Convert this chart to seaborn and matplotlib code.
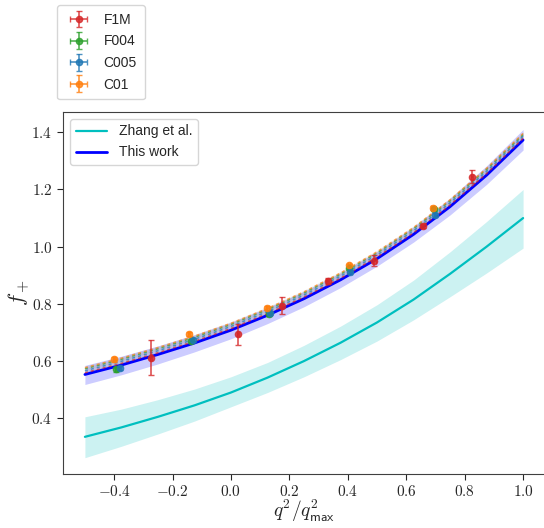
import matplotlib
matplotlib.use("Agg")
import matplotlib.pyplot as plt
import pandas as pd
import seaborn as sns
from matplotlib.legend_handler import HandlerErrorbar
from matplotlib.ticker import FuncFormatter

# q^2/q^2_max grid used for the curves
Q2 = [-0.5, -0.375, -0.25, -0.125, 0.0, 0.125, 0.25, 0.375, 0.5, 0.625, 0.75, 0.875, 1.0]

# Zhang et al. (central value and band)
ZHANG = [0.335, 0.368, 0.405, 0.445, 0.490, 0.542, 0.600, 0.664, 0.735, 0.815, 0.905, 1.000, 1.100]
ZHANG_LO = [0.262, 0.302, 0.345, 0.390, 0.440, 0.490, 0.545, 0.605, 0.670, 0.744, 0.825, 0.908, 0.995]
ZHANG_HI = [0.405, 0.432, 0.465, 0.502, 0.545, 0.595, 0.655, 0.722, 0.797, 0.883, 0.982, 1.088, 1.200]

# This work (central value and band)
THIS = [0.553, 0.586, 0.623, 0.663, 0.708, 0.760, 0.818, 0.884, 0.958, 1.043, 1.140, 1.250, 1.373]
THIS_LO = [0.518, 0.552, 0.590, 0.632, 0.678, 0.731, 0.790, 0.857, 0.932, 1.016, 1.111, 1.218, 1.338]
THIS_HI = [0.585, 0.617, 0.653, 0.692, 0.736, 0.787, 0.844, 0.909, 0.983, 1.070, 1.170, 1.283, 1.410]

# per-ensemble fit curves
FIT_F1M = [0.559, 0.592, 0.629, 0.669, 0.714, 0.766, 0.824, 0.890, 0.964, 1.049, 1.146, 1.256, 1.379]
FIT_C005 = [0.566, 0.599, 0.636, 0.676, 0.721, 0.773, 0.831, 0.897, 0.971, 1.056, 1.153, 1.263, 1.386]
FIT_F004 = [0.573, 0.606, 0.643, 0.683, 0.728, 0.780, 0.838, 0.904, 0.978, 1.063, 1.160, 1.270, 1.392]
FIT_C01 = [0.577, 0.610, 0.647, 0.687, 0.732, 0.784, 0.842, 0.908, 0.982, 1.067, 1.164, 1.274, 1.396]

# lattice data points
F1M_X = [-0.273, 0.023, 0.173, 0.331, 0.491, 0.656, 0.824]
F1M_Y = [0.612, 0.694, 0.793, 0.880, 0.951, 1.073, 1.245]
F1M_ERR = [0.062, 0.037, 0.030, 0.012, 0.020, 0.008, 0.022]

F004_X = [-0.394, -0.137, 0.129, 0.405, 0.694]
F004_Y = [0.571, 0.671, 0.764, 0.924, 1.131]
F004_ERR = [0.008, 0.006, 0.006, 0.005, 0.006]

C005_X = [-0.379, -0.129, 0.134, 0.409, 0.699]
C005_Y = [0.575, 0.674, 0.767, 0.913, 1.111]
C005_ERR = [0.008, 0.006, 0.006, 0.005, 0.006]

C01_X = [-0.400, -0.143, 0.125, 0.405, 0.690]
C01_Y = [0.606, 0.695, 0.785, 0.936, 1.136]
C01_ERR = [0.008, 0.006, 0.006, 0.005, 0.006]

RED, GREEN, BLUE, ORANGE = '#d62728', '#2ca02c', '#1f77b4', '#ff7f0e'


def main():
    sns.set_style("ticks")
    plt.rcParams['mathtext.fontset'] = 'cm'
    plt.rcParams['font.family'] = ['Liberation Sans', 'DejaVu Sans']

    fig = plt.figure(figsize=(5.44, 5.28), dpi=100)
    ax = fig.add_axes([63 / 544, 54 / 528, 482 / 544, 362 / 528])

    df = pd.DataFrame({'q2': Q2, 'zhang': ZHANG, 'this': THIS,
                       'F1M': FIT_F1M, 'C005': FIT_C005,
                       'F004': FIT_F004, 'C01': FIT_C01})

    ax.fill_between(Q2, ZHANG_LO, ZHANG_HI, color='c', alpha=0.2, lw=0)
    ax.fill_between(Q2, THIS_LO, THIS_HI, color='b', alpha=0.2, lw=0)

    sns.lineplot(x='q2', y='zhang', data=df, color='c', lw=1.6, ax=ax)
    sns.lineplot(x='q2', y='this', data=df, color='b', lw=2.0, ax=ax)
    lines = list(ax.get_lines())

    for name, col in [('F1M', RED), ('C005', BLUE), ('F004', GREEN), ('C01', ORANGE)]:
        ax.fill_between(Q2, df[name] - 0.006, df[name] + 0.006,
                        color='grey', alpha=0.12, lw=0)
        sns.lineplot(x='q2', y=name, data=df, color=col, lw=1.1,
                     alpha=0.7, ax=ax, linestyle=(0, (2, 2)))

    handles = []
    for lab, xs, ys, es, col in [('F1M', F1M_X, F1M_Y, F1M_ERR, RED),
                                 ('F004', F004_X, F004_Y, F004_ERR, GREEN),
                                 ('C005', C005_X, C005_Y, C005_ERR, BLUE),
                                 ('C01', C01_X, C01_Y, C01_ERR, ORANGE)]:
        h = ax.errorbar(xs, ys, xerr=0.004, yerr=es, fmt='o', ms=4.5,
                        color=col, ecolor=col, elinewidth=1.2, capsize=2.5,
                        alpha=0.8, label=lab, zorder=5)
        handles.append(h)

    ax.set_xlim(-0.575, 1.075)
    ax.set_ylim(0.205, 1.471)
    ax.set_xticks([-0.4, -0.2, 0.0, 0.2, 0.4, 0.6, 0.8, 1.0])
    ax.set_yticks([0.4, 0.6, 0.8, 1.0, 1.2, 1.4])
    fmt = FuncFormatter(lambda v, p: f"${v:.1f}$")
    ax.xaxis.set_major_formatter(fmt)
    ax.yaxis.set_major_formatter(fmt)
    ax.tick_params(labelsize=11, direction='out', length=4, color='.15')
    for s in ax.spines.values():
        s.set_color('.25')

    ax.set_xlabel(r"$q^2/q^2_{\mathsf{max}}$", fontsize=14, labelpad=-1)
    ax.set_ylabel(r"$f_+$", fontsize=16, labelpad=-1)

    leg_pts = ax.legend(handles=handles, loc='lower left',
                        bbox_to_anchor=(-0.012, 1.035), borderaxespad=0,
                        fontsize=10, handlelength=2.0, labelspacing=0.55,
                        borderpad=0.55,
                        handler_map={type(handles[0]): HandlerErrorbar(xerr_size=0.6)})
    ax.add_artist(leg_pts)
    ax.legend(handles=lines[:2], labels=['Zhang et al.', 'This work'],
              loc='upper left', fontsize=10, handlelength=2.3)

    plt.savefig('out.png', dpi=100)
    plt.close()


if __name__ == '__main__':
    main()
